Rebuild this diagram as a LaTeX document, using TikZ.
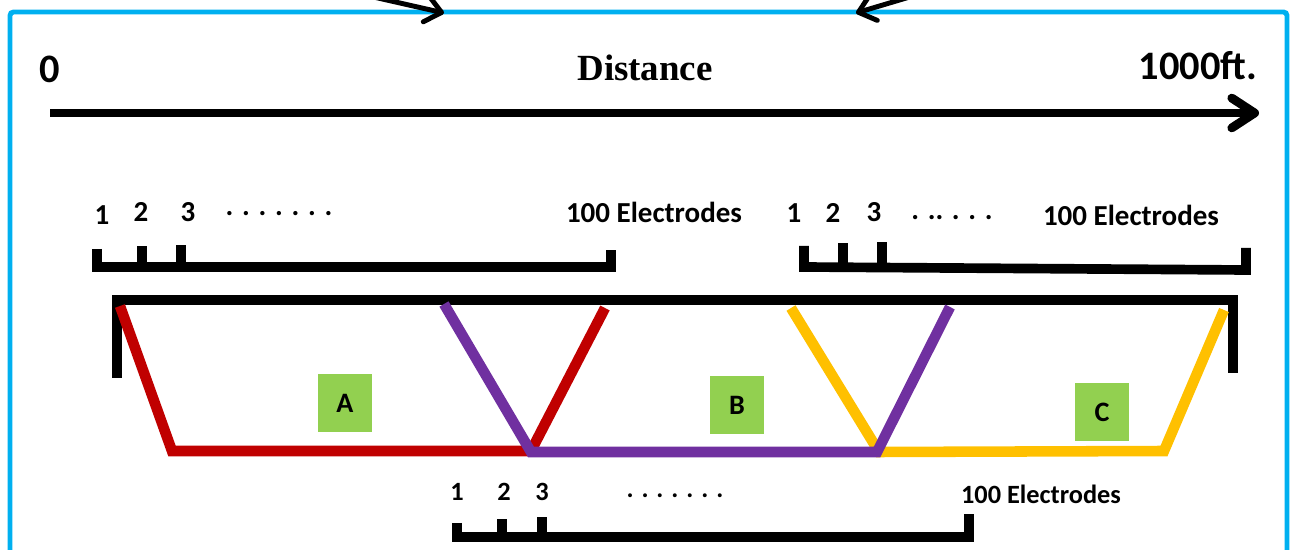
\documentclass[tikz,border=0pt]{standalone}
\usepackage{fontspec}
\setmainfont{Liberation Serif}
\newfontfamily\tagfont{Carlito}
\usetikzlibrary{arrows.meta}

\definecolor{framecol}{HTML}{00B0F0}
\definecolor{redline}{HTML}{C00000}
\definecolor{purpleline}{HTML}{7030A0}
\definecolor{yellowline}{HTML}{FFC000}
\definecolor{sectgreen}{HTML}{92D050}

\tikzset{frame/.style={draw=framecol, line width=2.8pt, rounded corners=2pt}}
\tikzset{feed/.style={line width=2.8pt, -{Straight Barb[length=9pt,width=15pt,round]}}}
\tikzset{axis/.style={line width=5pt, -{Straight Barb[length=13pt,width=17pt,round]}}}
\tikzset{bar/.style={line width=5.5pt}}
\tikzset{cable/.style={line width=6pt}}
\tikzset{axislabel/.style={font=\bfseries\fontsize{21}{21}\selectfont}}
\tikzset{endlabel/.style={font=\tagfont\bfseries\fontsize{23}{23}\selectfont}}
\tikzset{tag/.style={font=\tagfont\bfseries\fontsize{16.5}{16.5}\selectfont}}
\tikzset{lowtag/.style={font=\tagfont\bfseries\fontsize{15}{15}\selectfont}}
\tikzset{section/.style={fill=sectgreen, minimum width=31pt, minimum height=33pt, font=\tagfont\bfseries\fontsize{16}{16}\selectfont}}

\begin{document}
\begin{tikzpicture}[x=0.02cm, y=-0.02cm]
	% Default action for each node
	\tikzstyle{every node}=[inner sep=0pt];

	\useasboundingbox (0,0) rectangle (1296,550);
	\clip (0,0) rectangle (1296,550);

	% Frame and the two arrows coming in from above
	\draw[frame] (10,600) -- (10,12) -- (1287,12) -- (1287,600);
	\draw[feed] (369,-4) -- (444,13);
	\draw[feed] (913,-4) -- (856,13);

	% Distance axis
	\node[endlabel] (zero) at (50,69) {0};
	\node[axislabel] (dist) at (645,68) {Distance};
	\node[endlabel] (far) at (1198,66) {1000ft.};
	\draw[axis] (50,113) -- (1259,113);

	% Left spread
	\node[tag] (l1) at (102,215) {1};
	\node[tag] (l2) at (141,212) {2};
	\node[tag] (l3) at (188,212) {3};
	\node[tag] (ldots) at (279,214) {. . . . . . .};
	\node[tag] (lend) at (654,212) {100 Electrodes};
	\draw[bar] (97,249) -- (97,267) -- (611,267) -- (611,250);
	\draw[bar] (142,267) -- (142,246);
	\draw[bar] (181,267) -- (181,245);

	% Right spread
	\node[tag] (r1) at (794,213) {1};
	\node[tag] (r2) at (833,213) {2};
	\node[tag] (r3) at (874,212) {3};
	\node[tag] (rdots) at (952,218) {. .. . . .};
	\node[tag] (rend) at (1131,215) {100 Electrodes};
	\draw[bar] (804,246) -- (804,267) -- (1246,270) -- (1246,248);
	\draw[bar] (843,267) -- (843,243);
	\draw[bar] (882,267) -- (882,242);

	% Middle spread
	\node[lowtag] (m1) at (457,492) {1};
	\node[lowtag] (m2) at (504,492) {2};
	\node[lowtag] (m3) at (542,492) {3};
	\node[lowtag] (mdots) at (675,496) {. . . . . . .};
	\node[lowtag] (mend) at (1041,494) {100 Electrodes};
	\draw[bar] (457,523) -- (457,537) -- (969,537) -- (969,514);
	\draw[bar] (502,537) -- (502,519);
	\draw[bar] (542,537) -- (542,517);

	% Ground line
	\draw[line width=6pt] (117,378) -- (117,300) -- (1233,300) -- (1233,373);

	% Cable vertices
	\coordinate (a0) at (120,306);	\coordinate (a1) at (172,451);	\coordinate (a2) at (531,451);	\coordinate (a3) at (605,308);
	\coordinate (c0) at (791,308);	\coordinate (c1) at (879,452);	\coordinate (c2) at (1164,451);	\coordinate (c3) at (1224,310);
	\coordinate (b0) at (444,304);	\coordinate (b1) at (531,452);	\coordinate (b2) at (877,452);	\coordinate (b3) at (950,307);

	% Cables
	\draw[cable, redline] (a0) -- (a1) -- (a2) -- (a3);
	\draw[cable, yellowline] (c0) -- (c1) -- (c2) -- (c3);
	\draw[cable, purpleline] (b0) -- (b1) -- (b2) -- (b3);

	% Sections
	\node[section] (A) at (345,403) {A};
	\node[section] (B) at (737,405) {B};
	\node[section] (C) at (1102,412) {C};
\end{tikzpicture}
\end{document}
